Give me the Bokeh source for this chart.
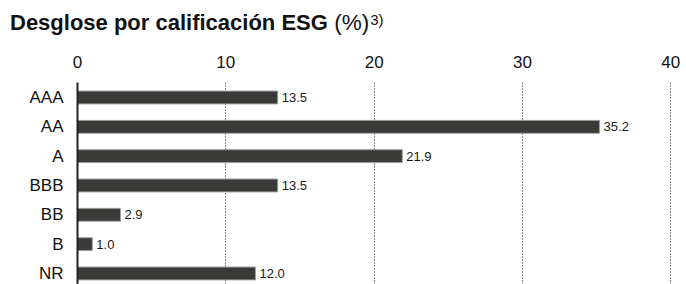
from bokeh.plotting import figure
from bokeh.models import ColumnDataSource, Range1d, Div, FixedTicker, LabelSet
from bokeh.core.properties import value
from bokeh.layouts import column
from bokeh.embed import file_html
from bokeh.resources import INLINE

ratings = ["AAA", "AA", "A", "BBB", "BB", "B", "NR"]
values = [13.5, 35.2, 21.9, 13.5, 2.9, 1.0, 12.0]
labels = ["13.5", "35.2", "21.9", "13.5", "2.9", "1.0", "12.0"]
x_ticks = [0, 10, 20, 30, 40]

n = len(ratings)
ypos = [n - 1 - i for i in range(n)]  # first rating at top
src = ColumnDataSource(dict(y=ypos, r=ratings, v=values, lab=labels))

title = Div(
    text='<div style="white-space:nowrap;line-height:30px;">'
         '<span style="font-family:\'Liberation Sans\';font-weight:bold;font-size:22px;color:#111;">'
         'Desglose por calificación ESG</span>'
         '<span style="font-family:\'Liberation Sans\';font-size:22.5px;color:#111;"> (%)</span>'
         '<sup style="font-family:\'Liberation Sans\';font-size:15px;color:#111;margin-left:1px;">3)</sup></div>',
    width=670, height=40, margin=(5, 0, 0, 10),
)

p = figure(
    y_range=Range1d(-0.376, n - 1 + 0.511),
    x_range=Range1d(0, 40.05),
    width=686, height=239,
    x_axis_location="above",
    output_backend="svg", toolbar_location=None,
    min_border_left=77, min_border_right=15, min_border_top=37, min_border_bottom=0,
    outline_line_color=None, margin=(0, 0, 0, 0),
)

p.hbar(y="y", right="v", left=0, height=0.44, source=src,
       fill_color="#3a3a38", line_color="#a0a09e", line_width=1)

p.add_layout(LabelSet(x="v", y="y", text="lab", source=src, x_offset=4, y_offset=0,
                      text_baseline="middle", text_font=value("Liberation Sans"),
                      text_font_size="13px", text_color="#1a1a1a"))

p.xaxis.ticker = FixedTicker(ticks=x_ticks)
p.xaxis.axis_line_color = None
p.xaxis.major_tick_line_color = None
p.xaxis.minor_tick_line_color = None
p.xaxis.major_label_text_font = "Liberation Sans"
p.xaxis.major_label_text_font_size = "17px"
p.xaxis.major_label_text_color = "#111111"
p.xaxis.major_label_standoff = 9

p.yaxis.ticker = FixedTicker(ticks=ypos)
p.yaxis.major_label_overrides = {y: r for y, r in zip(ypos, ratings)}
p.yaxis.axis_line_color = "#222222"
p.yaxis.axis_line_width = 2
p.yaxis.major_tick_line_color = None
p.yaxis.minor_tick_line_color = None
p.yaxis.major_label_text_font = "Liberation Sans"
p.yaxis.major_label_text_font_size = "17px"
p.yaxis.major_label_text_color = "#111111"
p.yaxis.major_label_standoff = 8

p.ygrid.grid_line_color = None
p.xgrid.ticker = FixedTicker(ticks=[10, 20, 30, 40])
p.xgrid.grid_line_color = "#111111"
p.xgrid.grid_line_dash = "1 2"
p.xgrid.grid_line_width = 1

layout = column(title, p, spacing=0, margin=(0, 0, 0, 0))
open("out.html", "w").write(file_html(layout, INLINE))
